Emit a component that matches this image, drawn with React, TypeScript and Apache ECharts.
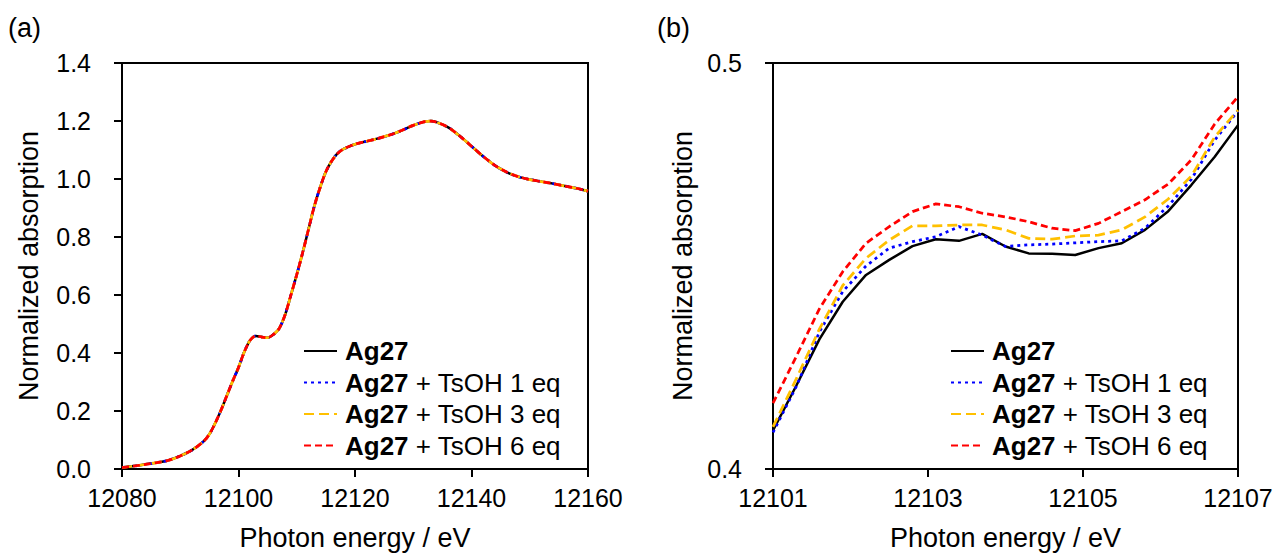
import React, { useEffect, useRef } from "react";
import * as echarts from "echarts";

// ---- Data ----
const seriesNames = ["Ag27", "Ag27 + TsOH 1 eq", "Ag27 + TsOH 3 eq", "Ag27 + TsOH 6 eq"];
const seriesColors = ["#000000", "#0000ff", "#ffc000", "#ff0000"];

// Panel (a): full XANES spectra (the four spectra overlap within line width)
const energyA = [
  12080, 12082, 12084, 12086, 12088, 12090, 12092, 12094, 12095, 12096, 12097, 12098, 12099, 12100,
  12101, 12102, 12103, 12104, 12105, 12106, 12107, 12108, 12109, 12110, 12111, 12112, 12113, 12114,
  12115, 12116, 12117, 12118, 12120, 12122, 12124, 12126, 12128, 12130, 12132, 12133, 12134, 12136,
  12138, 12140, 12142, 12144, 12146, 12148, 12150, 12152, 12154, 12156, 12158, 12160,
];
const absA = [
  0.005, 0.01, 0.016, 0.022, 0.03, 0.045, 0.065, 0.095, 0.12, 0.158, 0.203, 0.253, 0.303, 0.35,
  0.404, 0.444, 0.459, 0.455, 0.453, 0.464, 0.485, 0.532, 0.6, 0.67, 0.745, 0.825, 0.905, 0.97,
  1.025, 1.062, 1.088, 1.103, 1.12, 1.13, 1.14, 1.152, 1.167, 1.185, 1.198, 1.2, 1.196, 1.178,
  1.148, 1.113, 1.078, 1.047, 1.024, 1.008, 0.998, 0.991, 0.984, 0.976, 0.968, 0.958,
];
const absA_ag27 = absA;
const absA_1eq = absA;
const absA_3eq = absA;
const absA_6eq = absA;

// Panel (b): zoom of the shoulder region
const energyB = [
  12101.0, 12101.3, 12101.6, 12101.9, 12102.2, 12102.5, 12102.8, 12103.1, 12103.4, 12103.7, 12104.0,
  12104.3, 12104.6, 12104.9, 12105.2, 12105.5, 12105.8, 12106.1, 12106.4, 12106.7, 12107.0,
];
const absB_ag27 = [
  0.4095, 0.4205, 0.432, 0.4412, 0.4478, 0.4515, 0.4549, 0.4566, 0.4562, 0.4579, 0.4548,
  0.4531, 0.453, 0.4527, 0.4544, 0.4556, 0.4589, 0.4635, 0.47, 0.4769, 0.4847,
];
const absB_1eq = [
  0.409, 0.4203, 0.4338, 0.4437, 0.45, 0.4544, 0.456, 0.4572, 0.4597, 0.4576, 0.4548,
  0.4552, 0.4554, 0.4557, 0.456, 0.4562, 0.4593, 0.4648, 0.4714, 0.481, 0.4882,
];
const absB_3eq = [
  0.4104, 0.4222, 0.4345, 0.4452, 0.4519, 0.4564, 0.4599, 0.4599, 0.4601, 0.4601, 0.4589,
  0.4568, 0.4566, 0.4574, 0.4576, 0.4589, 0.4621, 0.4665, 0.4722, 0.4818, 0.4884,
];
const absB_6eq = [
  0.4162, 0.4277, 0.4395, 0.4486, 0.4556, 0.4597, 0.4634, 0.4653, 0.4646, 0.463, 0.4621,
  0.4609, 0.4593, 0.4587, 0.4605, 0.4634, 0.4663, 0.4702, 0.4762, 0.485, 0.4917,
];

const xTicksB = [12101, 12103, 12105, 12107];
const yTicksB = [0.4, 0.5];

const xTitle = "Photon energy / eV";
const yTitle = "Normalized absorption";
const panelLabels = ["(a)", "(b)"];

const FONT = "Liberation Sans";
const lineTypes: any[] = ["solid", [3, 4], [10, 5], [7, 4]];

const pairs = (xs: number[], ys: number[]) => xs.map((x, i) => [x, ys[i]]);

export default function App() {
  const ref = useRef<HTMLDivElement>(null);
  useEffect(() => {
    if (!ref.current) return;
    const chart = echarts.init(ref.current, undefined, { renderer: "svg" });
    const dataA = [absA_ag27, absA_1eq, absA_3eq, absA_6eq];
    const dataB = [absB_ag27, absB_1eq, absB_3eq, absB_6eq];

    const axisCommon = {
      axisLine: { lineStyle: { color: "#000", width: 2 } },
      axisTick: { show: true, length: 8, lineStyle: { color: "#000", width: 2 } },
      splitLine: { show: false },
      axisLabel: { color: "#000", fontFamily: FONT, fontSize: 25 },
      nameTextStyle: { color: "#000", fontFamily: FONT, fontSize: 27 },
      nameLocation: "middle" as const,
    };

    const legendCommon = {
      orient: "vertical" as const,
      top: 338,
      padding: 0,
      itemWidth: 33,
      itemHeight: 14,
      itemGap: 5.5,
      data: seriesNames,
      itemStyle: { color: "transparent", borderWidth: 0, opacity: 0 },
      formatter: (name: string) =>
        name === "Ag27" ? "{b|Ag27}" : "{b|Ag27}{n|" + name.slice(4) + "}",
      textStyle: {
        rich: {
          b: { fontFamily: FONT, fontSize: 26, fontWeight: "bold", color: "#000", lineHeight: 26, padding: [0, 0, 0, 3] },
          n: { fontFamily: FONT, fontSize: 26, color: "#000", lineHeight: 26 },
        },
      },
      selectedMode: false,
    };

    const mkSeries = (panel: number) =>
      seriesNames.map((name, i) => ({
        name,
        type: "line",
        xAxisIndex: panel,
        yAxisIndex: panel,
        data: panel === 0 ? pairs(energyA, dataA[i]) : pairs(energyB, dataB[i]),
        symbol: "none",
        smooth: panel === 0 ? 0.3 : false,
        lineStyle: { color: seriesColors[i], width: i === 0 ? 2.5 : 2.75, type: lineTypes[i] },
        itemStyle: { color: seriesColors[i] },
        z: 2 + i,
      }));

    const fmtX = (v: number) => String(v);

    chart.setOption({
      animation: false,
      backgroundColor: "#fff",
      grid: [
        { left: 122, right: 691, top: 63, bottom: 87, show: true, borderColor: "#000", borderWidth: 2, backgroundColor: "transparent" },
        { left: 773, right: 41, top: 63, bottom: 87, show: true, borderColor: "#000", borderWidth: 2, backgroundColor: "transparent" },
      ],
      xAxis: [
        {
          ...axisCommon,
          type: "value",
          gridIndex: 0,
          min: 12080,
          max: 12160,
          interval: 20,
          name: xTitle,
          nameGap: 55,
          axisLabel: { ...axisCommon.axisLabel, margin: 16, formatter: fmtX },
        },
        {
          ...axisCommon,
          type: "value",
          gridIndex: 1,
          min: 12101,
          max: 12107,
          interval: 1,
          name: xTitle,
          nameGap: 55,
          axisTick: { ...axisCommon.axisTick, customValues: xTicksB },
          axisLabel: { ...axisCommon.axisLabel, margin: 16, customValues: xTicksB, formatter: fmtX },
        },
      ],
      yAxis: [
        {
          ...axisCommon,
          type: "value",
          gridIndex: 0,
          min: 0,
          max: 1.4,
          interval: 0.2,
          name: yTitle,
          nameGap: 80,
          axisLabel: { ...axisCommon.axisLabel, margin: 31, formatter: (v: number) => v.toFixed(1) },
        },
        {
          ...axisCommon,
          type: "value",
          gridIndex: 1,
          min: 0.4,
          max: 0.5,
          name: yTitle,
          nameGap: 77,
          axisTick: { ...axisCommon.axisTick, customValues: yTicksB },
          axisLabel: { ...axisCommon.axisLabel, margin: 31, customValues: yTicksB, formatter: (v: number) => v.toFixed(1) },
        },
      ],
      legend: [
        { ...legendCommon, left: 303 },
        { ...legendCommon, left: 950 },
      ],
      graphic: [
        { type: "text", left: 8, top: 14, style: { text: panelLabels[0], fontFamily: FONT, fontSize: 27, fill: "#000" } },
        { type: "text", left: 657, top: 14, style: { text: panelLabels[1], fontFamily: FONT, fontSize: 27, fill: "#000" } },
      ],
      series: [...mkSeries(0), ...mkSeries(1)],
    } as any);
    return () => chart.dispose();
  }, []);
  return <div ref={ref} style={{ position: "fixed", left: 0, top: 0, width: 1279, height: 556 }} />;
}
